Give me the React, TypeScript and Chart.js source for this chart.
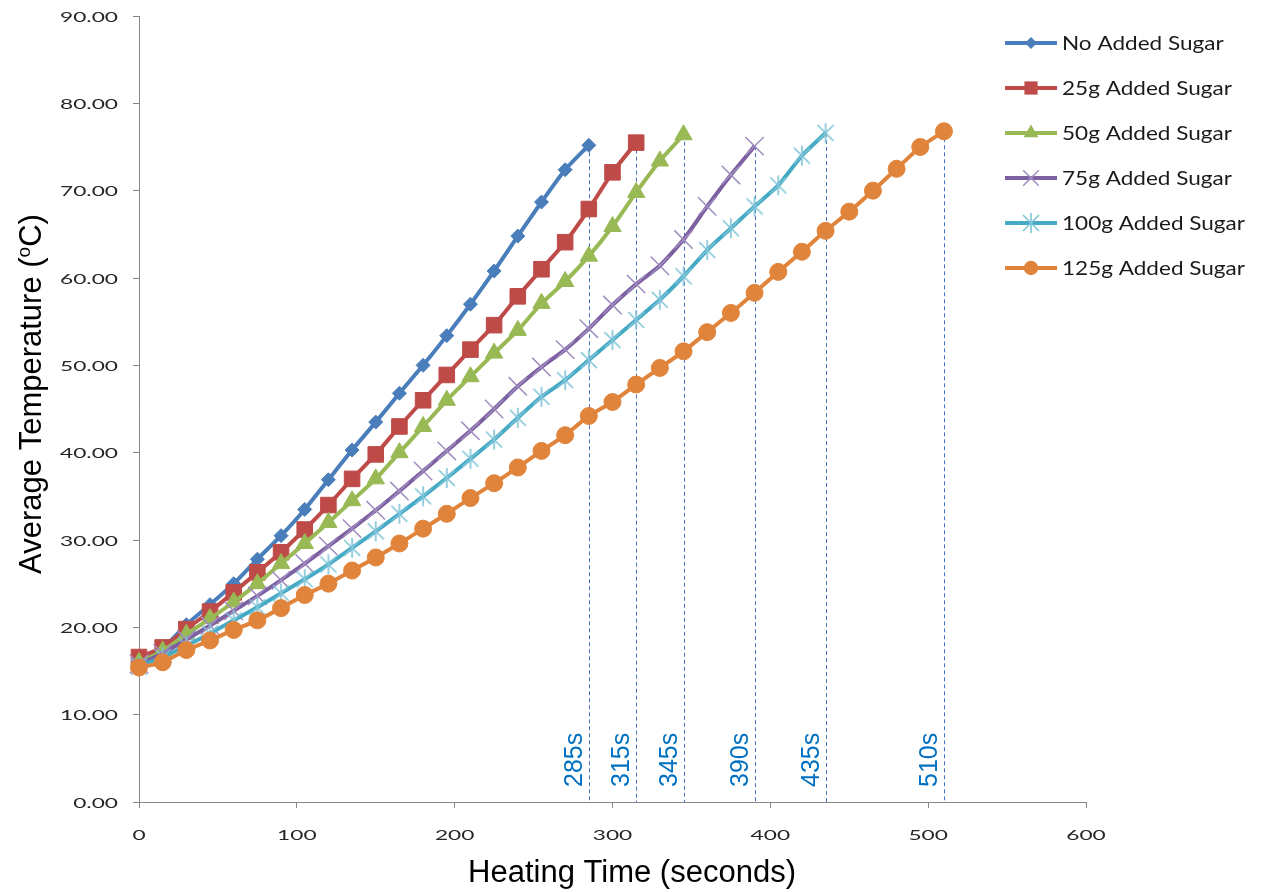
import React, { useEffect, useRef } from 'react';
import { Chart, registerables } from 'chart.js';

Chart.register(...registerables);

// Heating time (seconds) at which each reading was taken
const TIMES = [
  0, 15, 30, 45, 60, 75, 90, 105, 120, 135, 150, 165, 180, 195, 210, 225, 240, 255,
  270, 285, 300, 315, 330, 345, 360, 375, 390, 405, 420, 435, 450, 465, 480, 495, 510,
];

const SERIES_NAMES = [
  'No Added Sugar',
  '25g Added Sugar',
  '50g Added Sugar',
  '75g Added Sugar',
  '100g Added Sugar',
  '125g Added Sugar',
];

const NO_SUGAR = [16.0, 17.6, 20.3, 22.6, 25.0, 27.8, 30.5, 33.5, 36.9, 40.3, 43.5, 46.8, 50.0, 53.4, 57.0, 60.8, 64.8, 68.7, 72.4, 75.2];
const SUGAR_25 = [16.6, 17.7, 19.8, 21.8, 24.0, 26.3, 28.6, 31.2, 34.0, 37.0, 39.8, 43.0, 46.0, 48.9, 51.8, 54.6, 57.9, 61.0, 64.1, 67.9, 72.1, 75.5];
const SUGAR_50 = [16.0, 17.3, 19.2, 21.0, 22.9, 25.0, 27.3, 29.6, 32.0, 34.5, 37.0, 40.0, 43.0, 46.0, 48.7, 51.4, 54.0, 57.1, 59.6, 62.5, 65.9, 69.8, 73.4, 76.4];
const SUGAR_75 = [15.8, 17.0, 18.6, 20.2, 21.9, 23.6, 25.4, 27.3, 29.3, 31.3, 33.4, 35.6, 37.9, 40.2, 42.5, 45.0, 47.6, 49.8, 51.8, 54.2, 56.9, 59.3, 61.4, 64.4, 68.2, 71.8, 75.1];
const SUGAR_100 = [15.5, 16.6, 17.9, 19.3, 20.8, 22.3, 23.9, 25.5, 27.2, 29.1, 31.0, 33.0, 35.0, 37.1, 39.3, 41.5, 44.0, 46.4, 48.3, 50.6, 52.9, 55.2, 57.5, 60.2, 63.2, 65.7, 68.2, 70.6, 74.0, 76.6];
const SUGAR_125 = [15.4, 16.0, 17.4, 18.5, 19.7, 20.8, 22.2, 23.7, 25.0, 26.5, 28.0, 29.6, 31.3, 33.0, 34.8, 36.5, 38.3, 40.2, 42.0, 44.2, 45.8, 47.8, 49.7, 51.6, 53.8, 56.0, 58.3, 60.7, 63.0, 65.4, 67.6, 70.0, 72.5, 75.0, 76.8];

const SERIES_VALUES = [NO_SUGAR, SUGAR_25, SUGAR_50, SUGAR_75, SUGAR_100, SUGAR_125];

const X_MIN = 0;
const X_MAX = 600;
const X_STEP = 100;
const Y_MIN = 0;
const Y_MAX = 90;
const Y_STEP = 10;

const X_TITLE = 'Heating Time (seconds)';
const Y_TITLE_MAIN = 'Average Temperature (';
const Y_TITLE_SUP = 'o';
const Y_TITLE_END = 'C)';

const COLORS = ['#4A7EBB', '#BE4B48', '#98B954', '#7D60A0', '#46AAC5', '#E0843C'];
const MARKER_COLORS = ['#4A7EBB', '#BE4B48', '#98B954', '#A08CC0', '#7FC4D8', '#E0843C'];
const STYLES = ['rectRot', 'rect', 'triangle', 'crossRot', 'star6', 'circle'];
const RADII = [7, 11, 10, 13, 10, 8.5];

function makeStar(color: string) {
  const c = document.createElement('canvas');
  c.width = 22;
  c.height = 22;
  const g = c.getContext('2d')!;
  g.strokeStyle = color;
  g.lineWidth = 1.6;
  g.beginPath();
  g.moveTo(3, 3); g.lineTo(19, 19);
  g.moveTo(19, 3); g.lineTo(3, 19);
  g.moveTo(11, 1); g.lineTo(11, 21);
  g.stroke();
  return c;
}

function drawStretched(ctx: CanvasRenderingContext2D, text: string, x: number, y: number, align: CanvasTextAlign, sx: number) {
  ctx.save();
  ctx.translate(x, y);
  ctx.scale(sx, 1);
  ctx.textAlign = align;
  ctx.textBaseline = 'middle';
  ctx.fillText(text, 0, 0);
  ctx.restore();
}

function drawMarker(ctx: CanvasRenderingContext2D, style: any, x: number, y: number, r: number, fill: string, stroke: string) {
  ctx.save();
  ctx.fillStyle = fill;
  ctx.strokeStyle = stroke;
  ctx.beginPath();
  if (style instanceof HTMLCanvasElement) {
    ctx.drawImage(style, x - style.width / 2, y - style.height / 2);
  } else if (style === 'rectRot') {
    ctx.moveTo(x, y - r); ctx.lineTo(x + r, y); ctx.lineTo(x, y + r); ctx.lineTo(x - r, y); ctx.closePath(); ctx.fill();
  } else if (style === 'rect') {
    const s = r * Math.SQRT1_2;
    ctx.rect(x - s, y - s, 2 * s, 2 * s); ctx.fill();
  } else if (style === 'triangle') {
    for (let i = 0; i < 3; i++) {
      const a = (i * 2 * Math.PI) / 3;
      const px = x + Math.sin(a) * r;
      const py = y - Math.cos(a) * r;
      if (i === 0) ctx.moveTo(px, py); else ctx.lineTo(px, py);
    }
    ctx.closePath(); ctx.fill();
  } else if (style === 'crossRot') {
    const o = r * Math.SQRT1_2;
    ctx.lineWidth = 1.5;
    ctx.moveTo(x - o, y - o); ctx.lineTo(x + o, y + o);
    ctx.moveTo(x + o, y - o); ctx.lineTo(x - o, y + o);
    ctx.stroke();
  } else {
    ctx.arc(x, y, r, 0, Math.PI * 2); ctx.fill();
  }
  ctx.restore();
}

export default function App() {
  const ref = useRef<HTMLCanvasElement | null>(null);

  useEffect(() => {
    const canvas = ref.current;
    if (!canvas) return;
    const star = makeStar(MARKER_COLORS[4]);
    const pointStyles: any[] = STYLES.map((s) => (s === 'star6' ? star : s));

    const datasets = SERIES_VALUES.map((vals, i) => ({
      label: SERIES_NAMES[i],
      data: vals.map((v, j) => ({ x: TIMES[j], y: v })),
      borderColor: COLORS[i],
      backgroundColor: COLORS[i],
      borderWidth: 4,
      pointStyle: pointStyles[i],
      pointRadius: RADII[i],
      pointBackgroundColor: MARKER_COLORS[i],
      pointBorderColor: MARKER_COLORS[i],
      pointBorderWidth: i === 3 ? 1.5 : 1,
      tension: 0.2,
      clip: false as any,
      order: SERIES_VALUES.length - 1 - i,
    }));

    const custom = {
      id: 'customDecor',
      beforeDatasetsDraw(chart: any) {
        const ctx: CanvasRenderingContext2D = chart.ctx;
        const area = chart.chartArea;
        ctx.save();
        ctx.strokeStyle = '#4472C4';
        ctx.lineWidth = 1;
        ctx.setLineDash([4, 3]);
        chart.data.datasets.forEach((_: any, i: number) => {
          const meta = chart.getDatasetMeta(i);
          const last = meta.data[meta.data.length - 1];
          const x = Math.round(last.x) + 0.5;
          ctx.beginPath();
          ctx.moveTo(x, last.y);
          ctx.lineTo(x, area.bottom);
          ctx.stroke();
        });
        ctx.restore();
      },
      afterDraw(chart: any) {
        const ctx: CanvasRenderingContext2D = chart.ctx;
        const area = chart.chartArea;
        const xs = chart.scales.x;
        const ys = chart.scales.y;

        // end-time labels
        ctx.save();
        ctx.fillStyle = '#0070C0';
        ctx.font = '25px "Liberation Sans", Arial, sans-serif';
        chart.data.datasets.forEach((ds: any, i: number) => {
          const meta = chart.getDatasetMeta(i);
          const last = meta.data[meta.data.length - 1];
          const t = ds.data[ds.data.length - 1].x;
          ctx.save();
          ctx.translate(Math.round(last.x) - 7, area.bottom - 15);
          ctx.rotate(-Math.PI / 2);
          ctx.textAlign = 'left';
          ctx.textBaseline = 'alphabetic';
          ctx.fillText(`${t}s`, 0, 0);
          ctx.restore();
        });
        ctx.restore();

        // tick labels
        ctx.save();
        ctx.fillStyle = '#262626';
        ctx.font = '14px Lato, "Open Sans", sans-serif';
        const sx = 58 / ctx.measureText('90.00').width;
        ys.ticks.forEach((t: any) => {
          drawStretched(ctx, Number(t.value).toFixed(2), area.left - 21, ys.getPixelForValue(t.value) + 1, 'right', sx);
        });
        xs.ticks.forEach((t: any) => {
          drawStretched(ctx, String(t.value), xs.getPixelForValue(t.value), area.bottom + 33, 'center', sx);
        });
        ctx.restore();

        // axis titles
        ctx.save();
        ctx.fillStyle = '#000';
        ctx.font = '31px "Liberation Sans", Arial, sans-serif';
        ctx.textAlign = 'center';
        ctx.textBaseline = 'middle';
        ctx.fillText(X_TITLE, 632, area.bottom + 71);

        ctx.translate(30, 394);
        ctx.rotate(-Math.PI / 2);
        ctx.textAlign = 'left';
        ctx.textBaseline = 'alphabetic';
        const mainFont = '31px "Liberation Sans", Arial, sans-serif';
        const supFont = '19px "Liberation Sans", Arial, sans-serif';
        ctx.font = mainFont;
        const w1 = ctx.measureText(Y_TITLE_MAIN).width;
        const w3 = ctx.measureText(Y_TITLE_END).width;
        ctx.font = supFont;
        const w2 = ctx.measureText(Y_TITLE_SUP).width;
        const total = w1 + w2 + w3;
        let cx = -total / 2;
        const base = 11;
        ctx.font = mainFont;
        ctx.fillText(Y_TITLE_MAIN, cx, base);
        cx += w1;
        ctx.font = supFont;
        ctx.fillText(Y_TITLE_SUP, cx, base - 11);
        cx += w2;
        ctx.font = mainFont;
        ctx.fillText(Y_TITLE_END, cx, base);
        ctx.restore();

        // legend
        ctx.save();
        ctx.font = '19px Lato, "Open Sans", sans-serif';
        const lsx = 183 / ctx.measureText(SERIES_NAMES[4]).width;
        SERIES_NAMES.forEach((name, i) => {
          const y = 43 + i * 45;
          ctx.save();
          ctx.strokeStyle = COLORS[i];
          ctx.lineWidth = 4;
          ctx.beginPath();
          ctx.moveTo(1005, y);
          ctx.lineTo(1057, y);
          ctx.stroke();
          ctx.restore();
          drawMarker(ctx, pointStyles[i], 1031, y, RADII[i] * 0.85, MARKER_COLORS[i], MARKER_COLORS[i]);
          ctx.fillStyle = '#1a1a1a';
          drawStretched(ctx, name, 1062, y + 1, 'left', lsx);
        });
        ctx.restore();
      },
    };

    const axisCommon = {
      grid: { drawOnChartArea: false, drawTicks: true, tickLength: 6, color: '#868686', lineWidth: 1 },
      border: { color: '#868686', width: 1 },
    };

    const chart = new Chart(canvas, {
      type: 'line',
      data: { datasets: datasets as any },
      options: {
        animation: false,
        responsive: true,
        maintainAspectRatio: false,
        layout: { padding: { top: 16, right: 178, left: 0, bottom: 0 } },
        plugins: { legend: { display: false }, tooltip: { enabled: false } },
        scales: {
          x: {
            type: 'linear',
            min: X_MIN,
            max: X_MAX,
            ticks: { display: false, stepSize: X_STEP },
            ...axisCommon,
            afterFit: (s: any) => { s.height = 90; },
          },
          y: {
            type: 'linear',
            min: Y_MIN,
            max: Y_MAX,
            ticks: { display: false, stepSize: Y_STEP },
            ...axisCommon,
            afterFit: (s: any) => { s.width = 139; },
          },
        } as any,
      },
      plugins: [custom],
    });
    return () => chart.destroy();
  }, []);

  return (
    <div style={{ position: 'fixed', left: 0, top: 0, width: 1264, height: 892, background: '#fff' }}>
      <canvas ref={ref} />
    </div>
  );
}
